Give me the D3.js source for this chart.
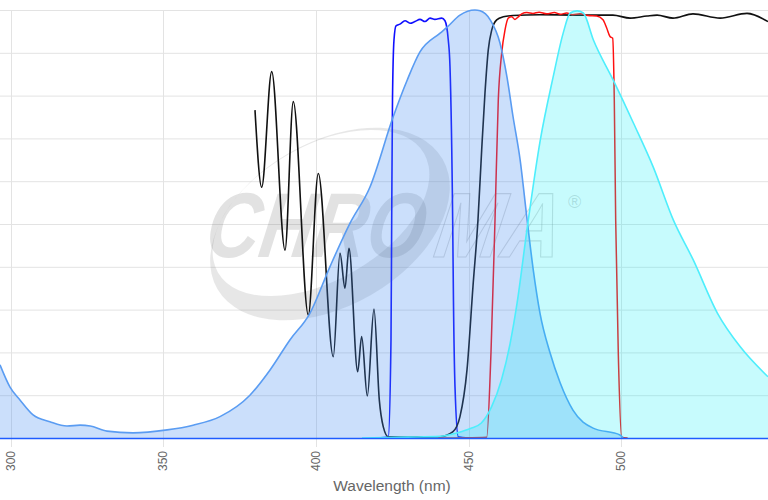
<!DOCTYPE html>
<html><head><meta charset="utf-8">
<script src="https://cdn.jsdelivr.net/npm/d3@7"></script>
<style>html,body{margin:0;padding:0;background:#fff;overflow:hidden}svg{display:block}</style>
</head><body>
<svg id="chart" width="768" height="500"></svg>
<script>
// ---- data (wavelength nm, percent) ----
const xTicks = [300, 350, 400, 450, 500, 550];
const yTicks = [0, 10, 20, 30, 40, 50, 60, 70, 80, 90, 100];
const xTitle = "Wavelength (nm)";

const excitation = [[296.46,17.1],[299.74,11.9],[303.0,8.9],[307.3,5.4],[312.8,3.8],[318.4,2.8],[322.7,3.0],[326.0,2.8],[331.5,1.6],[340.0,1.2],[351.2,1.9],[359.7,3.0],[368.5,5.0],[378.3,10.0],[384.9,15.9],[391.4,22.9],[398.0,29.2],[404.5,40.0],[411.1,50.2],[417.6,58.6],[425.2,75.0],[429.8,83.6],[434.0,90.2],[440.6,94.6],[442.9,96.0],[447.1,98.8],[452.0,100],[453.7,99.8],[457.0,97.7],[460.2,92.3],[462.5,84.3],[464.5,75.0],[466.8,65.0],[469.1,50.9],[471.1,39.3],[473.3,29.2],[476.6,19.9],[479.9,12.9],[484.1,6.5],[490.7,2.3],[499.5,0.7],[500.5,0]];

const emission = [[415,0],[430,0.2],[440.6,0.4],[446.2,1.2],[450.5,2.2],[454.1,3.5],[457.4,7.2],[460.7,13.6],[463.5,22.0],[465.8,31.5],[469.1,49.0],[473.4,69.6],[477.6,84.3],[480.9,94.6],[483.2,99.3],[485.5,99.8],[487.5,99.3],[490.8,93.0],[497.3,83.6],[503.9,73.6],[510.4,63.3],[517.0,50.9],[523.5,41.6],[531.4,29.2],[538.9,21.3],[547.98,14.3]];

const exciterFilter = [[420,0],[423.63,0.3],[424.51,22.9],[424.74,50.9],[425.0,79.0],[425.49,93.0],[426.15,96.3],[427.45,96.7],[429.1,97.5],[430.73,96.9],[432.37,97.3],[434.0,97.8],[435.65,97.3],[437.3,98.1],[438.9,97.8],[441.11,98.1],[442.19,97.5],[443.27,93.0],[443.83,86.8],[444.71,50.9],[444.97,32.0],[445.47,12.0],[446.55,0.3],[450,0]];

const dichroic = [[379.97,76.6],[382.17,58.6],[385.44,85.6],[389.8,43.9],[392.51,78.6],[397.43,28.7],[400.7,61.8],[405.61,19.0],[407.81,43.2],[409.44,35.0],[410.75,44.3],[413.6,15.5],[414.91,23.7],[416.75,9.8],[418.94,30.1],[420.68,8.9],[421.99,2.6],[423.63,0.3],[432,0.2],[440.55,0.3],[444.81,1.5],[447.1,5.0],[449.4,15.9],[451.36,35.4],[453.0,51.0],[454.21,67.3],[455.29,80.6],[456.37,90.7],[457.49,95.3],[459.13,97.7],[461.29,98.4],[464.46,98.7],[473.3,98.9],[486.4,98.8],[497.2,98.8],[502.8,98.1],[508.35,98.6],[511.63,98.8],[516.87,98.1],[523.41,99.1],[532.3,98.1],[541.1,99.2],[547.98,97.3]];

const emitterFilter = [[440,0],[455.85,0.2],[457.26,20.0],[458.57,50.9],[459.65,79.0],[460.76,89.9],[461.84,95.3],[462.92,98.1],[464.04,98.4],[465.12,97.8],[466.2,98.4],[467.31,99.1],[469.0,99.4],[471.0,99.2],[473.0,99.5],[475.5,99.1],[478.0,99.4],[480.0,99.0],[482.05,99.3],[484.0,98.9],[486.4,99.1],[489.0,98.7],[491.87,98.6],[493.94,97.7],[495.15,95.8],[496.23,93.8],[497.11,93.4],[497.64,78.9],[498.1,50.9],[498.95,19.8],[500.06,0.2],[502,0]];

// ---- layout ----
const W = 768, H = 500;
const x = d3.scaleLinear().domain([296.46, 547.98]).range([0, 768]);
const y = d3.scaleLinear().domain([0, 100]).range([438, 10]);
const svg = d3.select("#chart");

// grid
const grid = svg.append("g");
grid.selectAll("line.h").data(yTicks).join("line")
  .attr("x1", 0).attr("x2", W).attr("y1", d => y(d) + 0.5).attr("y2", d => y(d) + 0.5)
  .attr("stroke", "#e3e3e3").attr("stroke-width", 1);
grid.selectAll("line.v").data(xTicks).join("line")
  .attr("x1", d => Math.round(x(d)) + 0.5).attr("x2", d => Math.round(x(d)) + 0.5)
  .attr("y1", 10).attr("y2", 447)
  .attr("stroke", "#e3e3e3").attr("stroke-width", 1);

// watermark
const wm = svg.append("g");
function ell(cx, cy, rx, ry, rot) {
  const a = rot * Math.PI / 180, c = Math.cos(a), s = Math.sin(a);
  const p1 = [cx + rx * c, cy + rx * s], p2 = [cx - rx * c, cy - rx * s];
  return `M${p1[0]},${p1[1]}A${rx},${ry} ${rot} 1 1 ${p2[0]},${p2[1]}A${rx},${ry} ${rot} 1 1 ${p1[0]},${p1[1]}Z`;
}
wm.append("path")
  .attr("d", ell(330, 224, 130, 82, -30) + ell(321, 213, 119, 67, -30))
  .attr("fill-rule", "evenodd").attr("fill", "rgba(110,110,110,0.17)");
wm.append("text").attr("transform", "translate(203,257) skewX(-9)")
  .attr("font-family", "Liberation Sans, Arial, sans-serif").attr("font-weight", "bold")
  .attr("font-style", "italic").attr("font-size", 92)
  .attr("textLength", 218).attr("lengthAdjust", "spacingAndGlyphs")
  .attr("fill", "rgba(110,110,110,0.2)").text("CHRO");
wm.append("text").attr("transform", "translate(432,257) skewX(-9)")
  .attr("font-family", "Liberation Sans, Arial, sans-serif").attr("font-weight", "bold")
  .attr("font-style", "italic").attr("font-size", 92)
  .attr("textLength", 126).attr("lengthAdjust", "spacingAndGlyphs")
  .attr("fill", "none").attr("stroke", "rgba(110,110,110,0.25)").attr("stroke-width", 1.2).text("MA");
wm.append("text").attr("x", 568).attr("y", 208)
  .attr("font-family", "Liberation Sans, Arial, sans-serif").attr("font-size", 18)
  .attr("fill", "rgba(110,110,110,0.25)").text("®");

// lines + areas
const line = d3.line().x(d => x(d[0])).y(d => y(d[1])).curve(d3.curveMonotoneX);
const area = d3.area().x(d => x(d[0])).y0(y(0)).y1(d => y(d[1])).curve(d3.curveMonotoneX);

svg.append("path").datum(exciterFilter).attr("d", line)
  .attr("fill", "none").attr("stroke", "#1010ff").attr("stroke-width", 1.6);
svg.append("path").datum(dichroic).attr("d", line)
  .attr("fill", "none").attr("stroke", "#111").attr("stroke-width", 1.6);
svg.append("path").datum(emitterFilter).attr("d", line)
  .attr("fill", "none").attr("stroke", "#ff1010").attr("stroke-width", 1.5);

svg.append("path").datum(excitation).attr("d", area)
  .attr("fill", "rgb(70,140,240)").attr("fill-opacity", 0.28);
svg.append("path").datum(excitation).attr("d", line)
  .attr("fill", "none").attr("stroke", "#5a9cf2").attr("stroke-width", 1.6);

svg.append("path").datum(emission).attr("d", area)
  .attr("fill", "rgb(0,235,245)").attr("fill-opacity", 0.22);
svg.append("path").datum(emission).attr("d", line)
  .attr("fill", "none").attr("stroke", "#4eeefc").attr("stroke-width", 1.6);

// axis line
svg.append("line").attr("x1", 0).attr("x2", W).attr("y1", y(0) + 0.5).attr("y2", y(0) + 0.5)
  .attr("stroke", "#1f5cff").attr("stroke-width", 1.5);

// tick labels
svg.append("g").selectAll("text").data(xTicks).join("text")
  .attr("transform", d => `translate(${x(d) + 4},451) rotate(-90)`)
  .attr("text-anchor", "end")
  .attr("font-family", "Liberation Sans, Arial, sans-serif").attr("font-size", 12)
  .attr("fill", "#666").text(d => d);

svg.append("text").attr("x", 392).attr("y", 491).attr("text-anchor", "middle")
  .attr("font-family", "Liberation Sans, Arial, sans-serif").attr("font-size", 15.5)
  .attr("fill", "#666").text(xTitle);
</script>
</body></html>
